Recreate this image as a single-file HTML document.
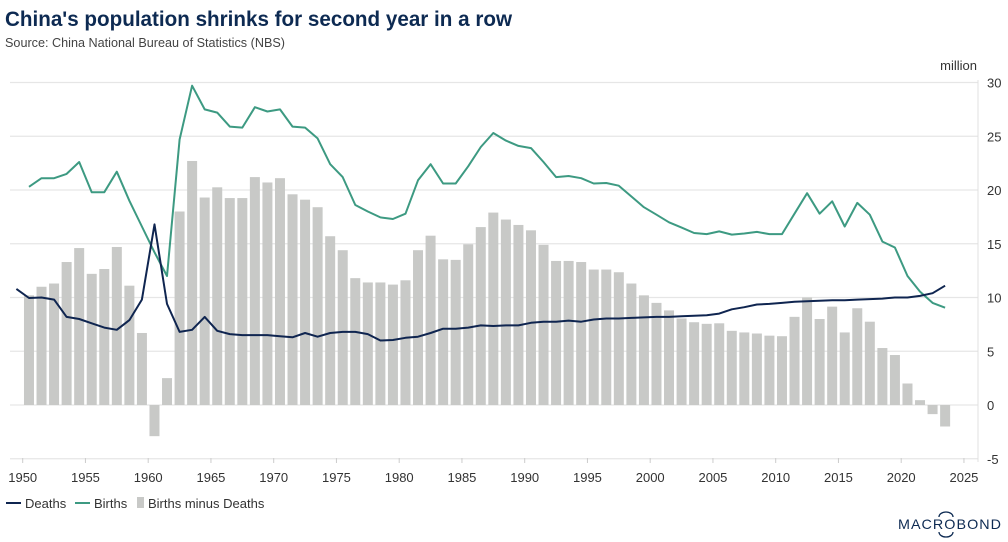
<!DOCTYPE html>
<html><head><meta charset="utf-8"><style>
body{margin:0;background:#fff;}
svg{display:block;font-family:"Liberation Sans",sans-serif;}
</style></head><body>
<svg id="chart" width="1008" height="542" viewBox="0 0 1008 542">
<text x="5" y="26" font-size="21" font-weight="bold" fill="#0d2a52" textLength="507" lengthAdjust="spacingAndGlyphs">China's population shrinks for second year in a row</text>
<text x="5" y="47" font-size="13" fill="#444" textLength="280" lengthAdjust="spacingAndGlyphs">Source: China National Bureau of Statistics (NBS)</text>
<text x="977" y="70" font-size="13" fill="#333" text-anchor="end">million</text>
<g id="grid"></g><g id="bars"></g><g id="lines"></g><g id="axes"></g>
<g>
<g><line x1="6" y1="503" x2="21" y2="503" stroke="#0f2550" stroke-width="2"/><text x="25" y="508" font-size="13" fill="#333">Deaths</text></g>
<g><line x1="75" y1="503" x2="90" y2="503" stroke="#3d9a82" stroke-width="2"/><text x="94" y="508" font-size="13" fill="#333">Births</text></g>
<g><rect x="137" y="497" width="7" height="11" fill="#c8c9c7"/><text x="148" y="508" font-size="13" fill="#333">Births minus Deaths</text></g>
</g>
<g>
<text x="898" y="529" font-size="14" fill="#0d2a52" textLength="104" lengthAdjust="spacingAndGlyphs" letter-spacing="1">MACROBOND</text>
<path d="M939 517 A7 5 0 0 1 953 517" fill="none" stroke="#0d2a52" stroke-width="1.3"/>
<path d="M939 532 A7 5 0 0 0 953 532" fill="none" stroke="#0d2a52" stroke-width="1.3"/>
</g>
</svg>
<script>
const barYears=[];for(let y=1950;y<=2023;y++)barYears.push(y);
const netValues=[10.2,11.0,11.3,13.3,14.6,12.2,12.65,14.7,11.1,6.7,-2.9,2.5,18.0,22.7,19.3,20.25,19.25,19.25,21.2,20.7,21.1,19.6,19.1,18.4,15.7,14.4,11.8,11.4,11.4,11.2,11.6,14.4,15.75,13.55,13.5,14.95,16.55,17.9,17.25,16.75,16.25,14.9,13.4,13.4,13.3,12.6,12.6,12.35,11.3,10.2,9.5,8.8,8.05,7.7,7.55,7.6,6.9,6.75,6.65,6.45,6.4,8.2,10.0,8.0,9.15,6.75,9.0,7.75,5.3,4.65,2.0,0.45,-0.85,-2.0];
const birthsStart=1950;
const births=[20.3,21.1,21.1,21.5,22.6,19.8,19.8,21.7,19.0,16.6,14.2,12.0,24.7,29.7,27.5,27.2,25.9,25.8,27.7,27.3,27.5,25.9,25.8,24.8,22.4,21.2,18.6,18.0,17.45,17.3,17.8,20.9,22.4,20.6,20.6,22.2,24.0,25.3,24.6,24.1,23.9,22.6,21.2,21.3,21.1,20.6,20.65,20.4,19.4,18.4,17.7,17.0,16.5,16.0,15.9,16.15,15.85,15.95,16.1,15.9,15.9,17.8,19.7,17.8,18.95,16.6,18.8,17.7,15.2,14.65,12.0,10.55,9.5,9.05];
const deathsStart=1949;
const deaths=[10.8,9.95,10.0,9.8,8.2,8.0,7.6,7.2,7.0,7.9,9.8,16.8,9.4,6.8,7.0,8.2,6.9,6.6,6.5,6.5,6.5,6.4,6.3,6.7,6.35,6.7,6.8,6.8,6.6,6.0,6.05,6.25,6.35,6.7,7.1,7.1,7.2,7.4,7.35,7.4,7.4,7.65,7.75,7.75,7.85,7.75,7.95,8.05,8.05,8.1,8.15,8.2,8.2,8.25,8.3,8.35,8.5,8.9,9.1,9.35,9.4,9.5,9.6,9.65,9.7,9.75,9.75,9.8,9.85,9.9,10.0,10.0,10.15,10.4,11.1];
const yTicks=[30,25,20,15,10,5,0,-5];
const xTicks=[1950,1955,1960,1965,1970,1975,1980,1985,1990,1995,2000,2005,2010,2015,2020,2025];
const NS='http://www.w3.org/2000/svg';
const X=y=>22.7+(y-1950)*12.55;
const Y=v=>405-v*10.75;
function mk(tag,attrs,parent){const e=document.createElementNS(NS,tag);for(const k in attrs)e.setAttribute(k,attrs[k]);document.getElementById(parent).appendChild(e);return e;}
yTicks.forEach(t=>{
 const l=mk('line',{x1:10,x2:978,y1:Y(t),y2:Y(t),stroke:'#e6e6e6','stroke-width':1.3},'grid');
 
 
 const tx=mk('text',{x:987,y:Y(t)+5,'font-size':13,fill:'#333'},'axes');tx.textContent=t;
 
 
});
const ax=mk('line',{x1:978,x2:978,y1:80,y2:462,stroke:'#e0e0e0','stroke-width':1},'axes');


xTicks.forEach(t=>{
 const tk=mk('line',{x1:X(t),x2:X(t),y1:458,y2:463,stroke:'#ccc'},'axes');
 
 
 const tx=mk('text',{x:X(t),y:482,'font-size':13,fill:'#333','text-anchor':'middle'},'axes');tx.textContent=t;
 
 
});
barYears.forEach((yr,i)=>{
 const v=netValues[i];const cx=X(yr+0.5);
 const r=mk('rect',{x:cx-5,width:10,y:Math.min(Y(v),Y(0)),height:Math.abs(Y(v)-Y(0)),fill:'#c8c9c7'},'bars');
 
 
});
function line(arr,start,color,name){
 const pts=arr.map((v,i)=>X(start+i+0.5).toFixed(1)+','+Y(v).toFixed(1)).join(' ');
 const p=mk('polyline',{points:pts,fill:'none',stroke:color,'stroke-width':2,'stroke-linejoin':'round'},'lines');
 
 
}
line(births,birthsStart,'#3d9a82','births-line');
line(deaths,deathsStart,'#0f2550','deaths-line');
</script>
</body></html>
